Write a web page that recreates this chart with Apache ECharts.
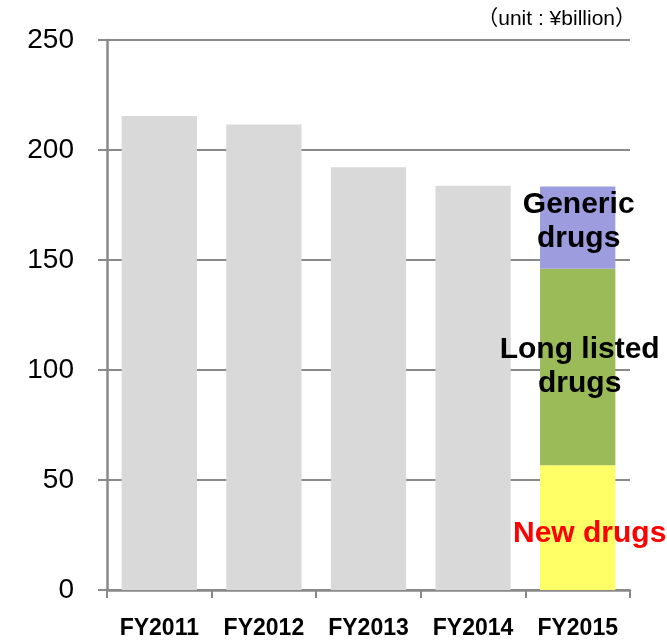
<!DOCTYPE html>
<html>
<head>
    <meta charset="utf-8">
    <title></title>
    <style type="text/css">
        body { margin: 0; background: #fff; }
        #main { width: 667px; height: 640px; }
    </style>
</head>
<body>
    <div id="main"></div>
</body>
<script src="https://cdn.jsdelivr.net/npm/echarts@6/dist/echarts.min.js"></script>
<script type="text/javascript">
    var categories = ['FY2011', 'FY2012', 'FY2013', 'FY2014', 'FY2015'];
    var totalSales = [215.4, 211.6, 192.2, 183.7, '-'];
    var newDrugs = ['-', '-', '-', '-', 56.7];
    var longListed = ['-', '-', '-', '-', 89.3];
    var generic = ['-', '-', '-', '-', 37.4];
    var yTicks = [0, 50, 100, 150, 200, 250];

    var font = 'Arial, "Liberation Sans", "Noto Sans CJK JP", sans-serif';

    // 給 FY2015 那一格加標籤
    function withLabel(arr, text, color, offset) {
        return arr.map(function (v) {
            if (v === '-') return v;
            return {
                value: v,
                label: {
                    show: true,
                    position: 'inside',
                    formatter: text,
                    color: color,
                    fontSize: 30,
                    fontWeight: 'bold',
                    lineHeight: 34,
                    fontFamily: font,
                    offset: offset
                }
            };
        });
    }

    var option = {
        backgroundColor: '#FFFFFF',
        animation: false,
        grid: { left: 107, right: 37, top: 40, bottom: 48 },
        graphic: [{
            type: 'text',
            right: 31,
            top: 9,
            style: {
                text: '（unit : ¥billion）',
                fontSize: 21,
                fontFamily: font,
                fill: '#000'
            }
        }],
        xAxis: {
            type: 'category',
            data: categories,
            axisLine: { lineStyle: { color: '#898989', width: 2.5 } },
            axisTick: { show: true, interval: 0, length: 8, lineStyle: { color: '#898989', width: 2 } },
            axisLabel: {
                interval: 0,
                color: '#000',
                fontSize: 23,
                fontWeight: 'bold',
                fontFamily: font,
                margin: 27
            }
        },
        yAxis: {
            type: 'value',
            min: yTicks[0],
            max: yTicks[yTicks.length - 1],
            interval: 50,
            axisLine: { show: true, lineStyle: { color: '#898989', width: 2.5 } },
            axisTick: { show: true, length: 9, lineStyle: { color: '#898989', width: 2 } },
            splitLine: { lineStyle: { color: '#898989', width: 2 } },
            axisLabel: {
                color: '#000',
                fontSize: 28,
                fontFamily: font,
                margin: 33
            }
        },
        series: [{
            name: 'Total',
            type: 'bar',
            stack: 'a',
            barCategoryGap: '28%',
            itemStyle: { color: '#d9d9d9' },
            data: totalSales
        }, {
            name: 'New drugs',
            type: 'bar',
            stack: 'a',
            itemStyle: { color: '#ffff66' },
            data: withLabel(newDrugs, 'New drugs', '#ff0000', [12, 6])
        }, {
            name: 'Long listed drugs',
            type: 'bar',
            stack: 'a',
            itemStyle: { color: '#9bbb59' },
            data: withLabel(longListed, 'Long listed\ndrugs', '#000', [2, 0])
        }, {
            name: 'Generic drugs',
            type: 'bar',
            stack: 'a',
            itemStyle: { color: '#9c9cde' },
            data: withLabel(generic, 'Generic\ndrugs', '#000', [1, -6])
        }]
    };

    var myChart = echarts.init(document.getElementById('main'));
    myChart.setOption(option);
</script>
</html>
